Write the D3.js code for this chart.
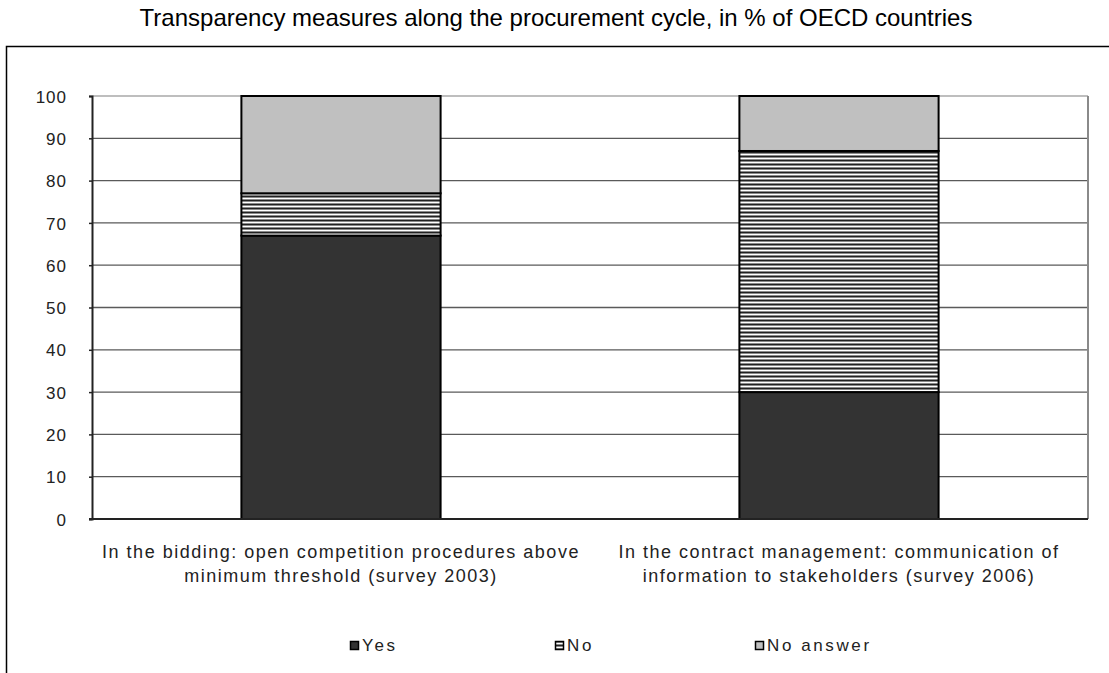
<!DOCTYPE html>
<html>
<head>
<meta charset="utf-8">
<script src="https://cdn.jsdelivr.net/npm/d3@7"></script>
<style>
  html, body { margin: 0; padding: 0; background: #fff; }
  svg { display: block; font-family: "Liberation Sans", Arial, sans-serif; }
</style>
</head>
<body>
<svg id="chart" width="1109" height="673"></svg>
<script>
// Chart data
const title = "Transparency measures along the procurement cycle, in % of OECD countries";
const categories = [
  ["In the bidding: open competition procedures above", "minimum threshold (survey 2003)"],
  ["In the contract management: communication of", "information to stakeholders (survey 2006)"]
];
const seriesNames = ["Yes", "No", "No answer"];
const yesValues = [67, 30];
const noValues = [10, 57];
const noAnswerValues = [23, 13];
const yTicks = [0, 10, 20, 30, 40, 50, 60, 70, 80, 90, 100];

const svg = d3.select("#chart");
const plot = { left: 92, right: 1088, top: 96, bottom: 519 };

// Stripe pattern for the "No" series
const defs = svg.append("defs");
const pat = defs.append("pattern")
  .attr("id", "stripes").attr("patternUnits", "userSpaceOnUse")
  .attr("width", 8).attr("height", 4);
pat.append("rect").attr("width", 8).attr("height", 4).attr("fill", "#ffffff");
pat.append("rect").attr("y", 0).attr("width", 8).attr("height", 1).attr("fill", "#222");
pat.append("rect").attr("y", 1).attr("width", 8).attr("height", 1).attr("fill", "#8a8a8a");
pat.append("rect").attr("y", 3).attr("width", 8).attr("height", 1).attr("fill", "#8a8a8a");

const fills = ["#333333", "url(#stripes)", "#c0c0c0"];

// Title
svg.append("text")
  .attr("x", 556).attr("y", 26)
  .attr("text-anchor", "middle")
  .attr("font-size", 24).attr("fill", "#000")
  .text(title);

// Outer chart frame
svg.append("rect")
  .attr("x", 6.5).attr("y", 46.5)
  .attr("width", 1200).attr("height", 700)
  .attr("fill", "none").attr("stroke", "#000").attr("stroke-width", 1.5);

// Scales
const x = d3.scaleBand()
  .domain(d3.range(categories.length))
  .range([plot.left, plot.right])
  .paddingInner(0.6).paddingOuter(0.3);
const y = d3.scaleLinear().domain([0, 100]).range([plot.bottom, plot.top]);

// Gridlines
svg.append("g").selectAll("line")
  .data(yTicks.filter(t => t > 0 && t < 100))
  .join("line")
  .attr("x1", plot.left).attr("x2", plot.right)
  .attr("y1", d => y(d)).attr("y2", d => y(d))
  .attr("stroke", "#5a5a5a").attr("stroke-width", 1.3);

// Plot border: top and right
svg.append("line")
  .attr("x1", plot.left).attr("x2", plot.right)
  .attr("y1", y(100)).attr("y2", y(100))
  .attr("stroke", "#a8a8a8").attr("stroke-width", 1.5);
svg.append("line")
  .attr("x1", plot.right).attr("x2", plot.right)
  .attr("y1", y(100)).attr("y2", y(0))
  .attr("stroke", "#8a8a8a").attr("stroke-width", 2);

// Stacked bars
const stackData = categories.map((c, i) => ({
  i, Yes: yesValues[i], No: noValues[i], "No answer": noAnswerValues[i]
}));
const stacked = d3.stack().keys(seriesNames)(stackData);

svg.append("g").selectAll("g")
  .data(stacked)
  .join("g")
  .attr("fill", (d, k) => fills[k])
  .selectAll("rect")
  .data(d => d)
  .join("rect")
  .attr("x", d => x(d.data.i))
  .attr("width", x.bandwidth())
  .attr("y", d => y(d[1]))
  .attr("height", d => y(d[0]) - y(d[1]))
  .attr("stroke", "#000").attr("stroke-width", 2);

// Y axis
const yAxis = d3.axisLeft(y).tickValues(yTicks).tickSize(3).tickPadding(22);
const yg = svg.append("g").attr("transform", `translate(${plot.left},0)`).call(yAxis);
yg.select(".domain").attr("stroke", "#222").attr("stroke-width", 2);
yg.selectAll(".tick line").attr("stroke", "#222").attr("stroke-width", 1.5);
yg.selectAll(".tick text")
  .attr("font-family", "'Liberation Sans', Arial, sans-serif")
  .attr("font-size", 17).attr("fill", "#222").attr("letter-spacing", 1)
  .attr("dy", "0.36em");

// Bottom axis line
svg.append("line")
  .attr("x1", plot.left - 3).attr("x2", plot.right)
  .attr("y1", y(0)).attr("y2", y(0))
  .attr("stroke", "#222").attr("stroke-width", 2);

// Category labels
const catG = svg.append("g").selectAll("text")
  .data(categories)
  .join("text")
  .attr("text-anchor", "middle")
  .attr("font-size", 18).attr("fill", "#222").attr("letter-spacing", 1.5);
catG.each(function(lines, i) {
  const cx = x(i) + x.bandwidth() / 2;
  d3.select(this).selectAll("tspan")
    .data(lines)
    .join("tspan")
    .attr("x", cx)
    .attr("y", (d, j) => 558 + j * 24)
    .text(d => d);
});

// Legend
const legendX = [350, 555, 755];
const lg = svg.append("g").selectAll("g")
  .data(seriesNames)
  .join("g")
  .attr("transform", (d, k) => `translate(${legendX[k]},641)`);
lg.append("rect")
  .attr("x", 0.5).attr("y", 0.5).attr("width", 8).attr("height", 8)
  .attr("fill", (d, k) => fills[k])
  .attr("stroke", "#000").attr("stroke-width", 1.5);
lg.append("text")
  .attr("x", 12).attr("y", 10)
  .attr("font-size", 17).attr("fill", "#222").attr("letter-spacing", 2.6)
  .text(d => d);
</script>
</body>
</html>
